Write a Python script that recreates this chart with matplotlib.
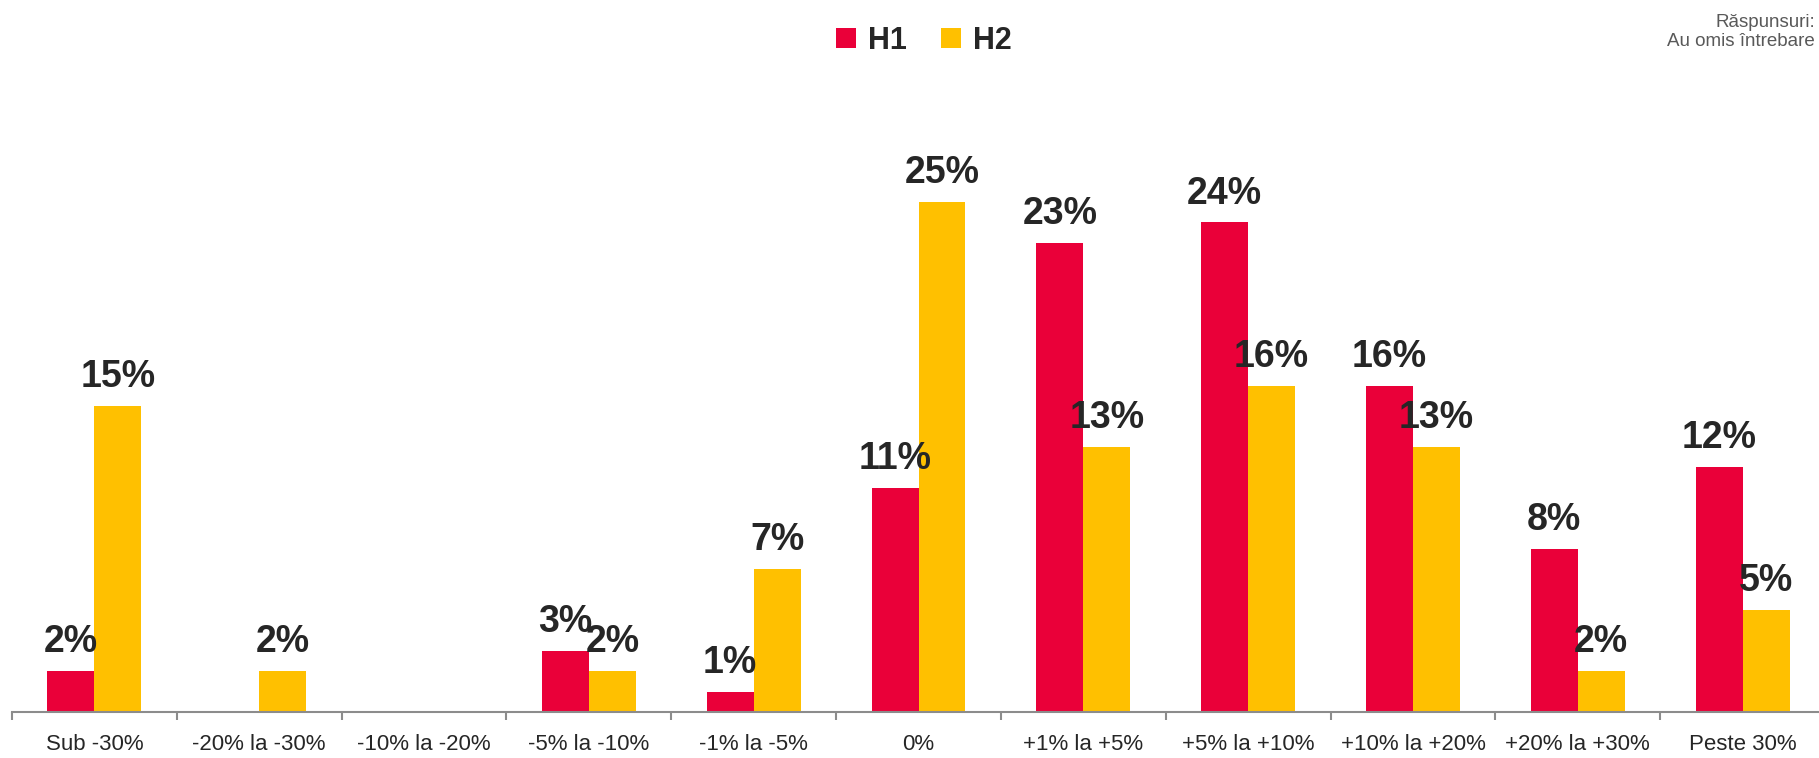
import numpy as np
import matplotlib.pyplot as plt

# chart data
categories = ['Sub -30%', '-20% la -30%', '-10% la -20%', '-5% la -10%', '-1% la -5%', '0%',
              '+1% la +5%', '+5% la +10%', '+10% la +20%', '+20% la +30%', 'Peste 30%']
h1 = [2, 0, 0, 3, 1, 11, 23, 24, 16, 8, 12]
h2 = [15, 2, 0, 2, 7, 25, 13, 16, 13, 2, 5]
series_names = ['H1', 'H2']

red = '#EA0039'
yellow = '#FFC000'
dark = '#262626'

plt.rcParams['font.family'] = ['Liberation Sans', 'DejaVu Sans']

fig = plt.figure(figsize=(18.19, 7.58), dpi=100)
ax = fig.add_axes([12 / 1819, 46 / 758, 1813 / 1819, 612 / 758])

x = np.arange(len(categories))
w = 0.285
b1 = ax.bar(x - w / 2, h1, w, color=red, label=series_names[0])
b2 = ax.bar(x + w / 2, h2, w, color=yellow, label=series_names[1])

# value labels above the bars, skip the empty ones
for bars, vals in [(b1, h1), (b2, h2)]:
    for rect, v in zip(bars, vals):
        if v == 0:
            continue
        ax.annotate(f'{v}%', (rect.get_x() + rect.get_width() / 2, v),
                    xytext=(0, 13.5), textcoords='offset points',
                    ha='center', va='baseline', fontsize=27, fontweight='bold', color=dark)

ax.set_xlim(-0.5, len(categories) - 0.5)
ax.set_ylim(0, 30)

ax.set_xticks(x)
ax.set_xticklabels(categories, fontsize=16, color=dark)
ax.set_xticks(np.arange(len(categories) + 1) - 0.5, minor=True)
ax.tick_params(axis='x', which='major', length=0, pad=16)
ax.tick_params(axis='x', which='minor', length=6, width=1.5, color='#8C8C8C', direction='out')
ax.set_yticks([])

for s in ['top', 'right', 'left']:
    ax.spines[s].set_visible(False)
ax.spines['bottom'].set_color('#8C8C8C')
ax.spines['bottom'].set_linewidth(1.5)

leg = fig.legend(handles=[b1, b2], labels=series_names, loc='center', bbox_to_anchor=(924 / 1819, 1 - 41 / 758),
                 ncol=2, frameon=False, handlelength=0.65, handleheight=0.65, handletextpad=0.4,
                 columnspacing=1.1, prop={'weight': 'bold', 'size': 22})
for t in leg.get_texts():
    t.set_color(dark)

fig.text(1815 / 1819, 1 - 32 / 758, 'Răspunsuri:\nAu omis întrebare', ha='right', va='center',
         fontsize=13.5, color='#595959', linespacing=1.1)

fig.savefig('out.png', dpi=100)
